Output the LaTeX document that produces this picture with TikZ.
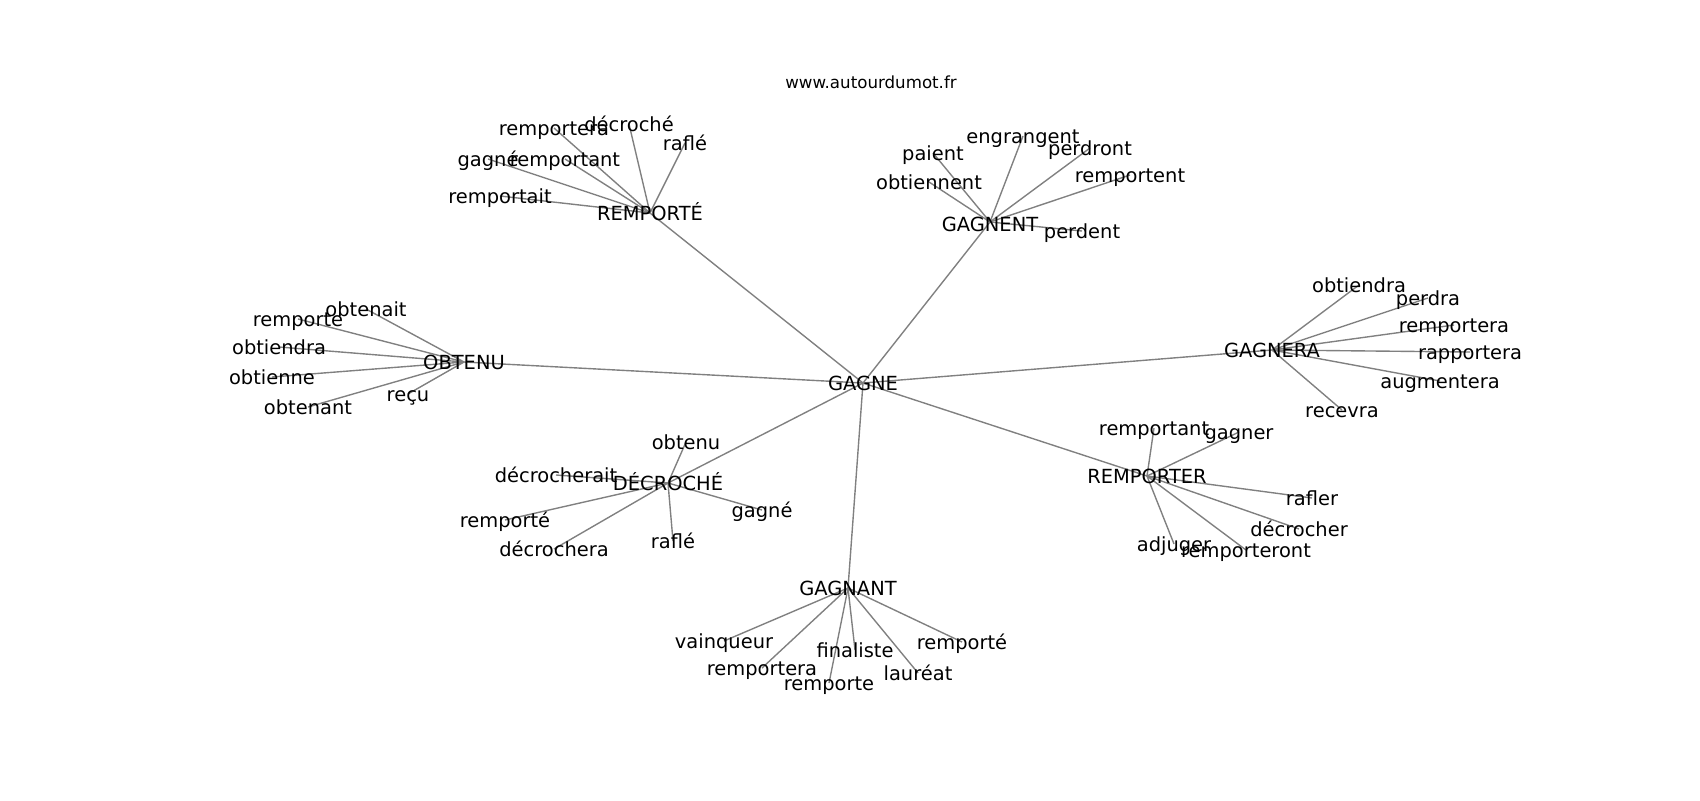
\documentclass[tikz,border=0pt]{standalone}
\usepackage{fontspec}
\setmainfont{DejaVu Sans}
\tikzset{
  lbl/.style={inner sep=0pt, anchor=center, text height=10.64pt, text depth=3.36pt,
    yshift=-1.5pt, font=\fontsize{14pt}{16pt}\selectfont, text=black},
  ttl/.style={inner sep=0pt, anchor=center, font=\fontsize{12pt}{14pt}\selectfont, text=black},
  edge/.style={draw=gray, line width=1pt}
}
\begin{document}
\begin{tikzpicture}[x=0.72pt, y=-0.72pt]
\useasboundingbox (0,0) rectangle (1700,800);
% hubs
\coordinate (G) at (863,383);
\coordinate (RE) at (650,213);
\coordinate (GT) at (990,222);
\coordinate (OB) at (464,362);
\coordinate (GR) at (1272,350);
\coordinate (DE) at (668,483);
\coordinate (RR) at (1147,476);
\coordinate (GA) at (848,588);
% leaves REMPORTE
\coordinate (re1) at (554,128);
\coordinate (re2) at (629,124);
\coordinate (re3) at (685,143);
\coordinate (re4) at (488,159);
\coordinate (re5) at (565,159);
\coordinate (re6) at (500,196);
% GAGNENT
\coordinate (gt1) at (933,153);
\coordinate (gt2) at (1023,136);
\coordinate (gt3) at (1090,148);
\coordinate (gt4) at (929,182);
\coordinate (gt5) at (1130,175);
\coordinate (gt6) at (1082,231);
% OBTENU
\coordinate (ob1) at (366,309);
\coordinate (ob2) at (298,319);
\coordinate (ob3) at (279,347);
\coordinate (ob4) at (272,377);
\coordinate (ob5) at (308,407);
\coordinate (ob6) at (408,394);
% GAGNERA
\coordinate (gr1) at (1359,285);
\coordinate (gr2) at (1428,298);
\coordinate (gr3) at (1454,325);
\coordinate (gr4) at (1470,352);
\coordinate (gr5) at (1440,381);
\coordinate (gr6) at (1342,410);
% DECROCHE
\coordinate (de1) at (686,442);
\coordinate (de2) at (556,475);
\coordinate (de3) at (505,520);
\coordinate (de4) at (554,549);
\coordinate (de5) at (673,541);
\coordinate (de6) at (762,510);
% REMPORTER
\coordinate (rr1) at (1154,428);
\coordinate (rr2) at (1239,432);
\coordinate (rr3) at (1312,498);
\coordinate (rr4) at (1299,529);
\coordinate (rr5) at (1174,544);
\coordinate (rr6) at (1246,550);
% GAGNANT
\coordinate (ga1) at (724,641);
\coordinate (ga2) at (762,668);
\coordinate (ga3) at (829,683);
\coordinate (ga4) at (855,650);
\coordinate (ga5) at (918,673);
\coordinate (ga6) at (962,642);
% edges
\foreach \h in {RE,GT,OB,GR,DE,RR,GA} \draw[edge] (G) -- (\h);
\foreach \i in {1,...,6} {
  \draw[edge] (RE) -- (re\i);
  \draw[edge] (GT) -- (gt\i);
  \draw[edge] (OB) -- (ob\i);
  \draw[edge] (GR) -- (gr\i);
  \draw[edge] (DE) -- (de\i);
  \draw[edge] (RR) -- (rr\i);
  \draw[edge] (GA) -- (ga\i);
}
% labels
\node[ttl] (title) at (871,82) {www.autourdumot.fr};
\node[lbl] (tG) at (G) {GAGNE};
\node[lbl] (tRE) at (RE) {REMPORTÉ};
\node[lbl,yshift=-1.5pt] (tGT) at (GT) {GAGNENT};
\node[lbl] (tOB) at (OB) {OBTENU};
\node[lbl] (tGR) at (GR) {GAGNERA};
\node[lbl] (tDE) at (DE) {DÉCROCHÉ};
\node[lbl] (tRR) at (RR) {REMPORTER};
\node[lbl] (tGA) at (GA) {GAGNANT};
\node[lbl] (tre1) at (re1) {remportera};
\node[lbl] (tre2) at (re2) {décroché};
\node[lbl] (tre3) at (re3) {raflé};
\node[lbl] (tre4) at (re4) {gagné};
\node[lbl] (tre5) at (re5) {remportant};
\node[lbl] (tre6) at (re6) {remportait};
\node[lbl] (tgt1) at (gt1) {paient};
\node[lbl] (tgt2) at (gt2) {engrangent};
\node[lbl] (tgt3) at (gt3) {perdront};
\node[lbl] (tgt4) at (gt4) {obtiennent};
\node[lbl] (tgt5) at (gt5) {remportent};
\node[lbl] (tgt6) at (gt6) {perdent};
\node[lbl] (tob1) at (ob1) {obtenait};
\node[lbl] (tob2) at (ob2) {remporte};
\node[lbl] (tob3) at (ob3) {obtiendra};
\node[lbl] (tob4) at (ob4) {obtienne};
\node[lbl] (tob5) at (ob5) {obtenant};
\node[lbl] (tob6) at (ob6) {reçu};
\node[lbl] (tgr1) at (gr1) {obtiendra};
\node[lbl] (tgr2) at (gr2) {perdra};
\node[lbl] (tgr3) at (gr3) {remportera};
\node[lbl] (tgr4) at (gr4) {rapportera};
\node[lbl] (tgr5) at (gr5) {augmentera};
\node[lbl] (tgr6) at (gr6) {recevra};
\node[lbl] (tde1) at (de1) {obtenu};
\node[lbl] (tde2) at (de2) {décrocherait};
\node[lbl] (tde3) at (de3) {remporté};
\node[lbl] (tde4) at (de4) {décrochera};
\node[lbl] (tde5) at (de5) {raflé};
\node[lbl] (tde6) at (de6) {gagné};
\node[lbl] (trr1) at (rr1) {remportant};
\node[lbl] (trr2) at (rr2) {gagner};
\node[lbl] (trr3) at (rr3) {rafler};
\node[lbl] (trr4) at (rr4) {décrocher};
\node[lbl] (trr5) at (rr5) {adjuger};
\node[lbl] (trr6) at (rr6) {remporteront};
\node[lbl] (tga1) at (ga1) {vainqueur};
\node[lbl] (tga2) at (ga2) {remportera};
\node[lbl] (tga3) at (ga3) {remporte};
\node[lbl] (tga4) at (ga4) {finaliste};
\node[lbl] (tga5) at (ga5) {lauréat};
\node[lbl] (tga6) at (ga6) {remporté};
\end{tikzpicture}
\end{document}
